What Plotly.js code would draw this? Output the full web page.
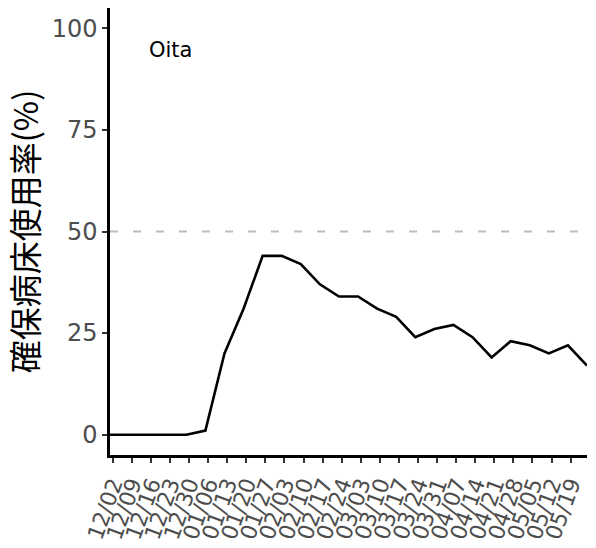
<!DOCTYPE html>
<html>
<head>
<meta charset="utf-8">
<script src="https://cdn.plot.ly/plotly-3.0.1.min.js"></script>
<style>html,body{margin:0;padding:0;background:#fff;}#chart{width:596px;height:548px;}</style>
</head>
<body>
<div id="chart"></div>
<script>
// Weekly data points (dates are one day before each tick date)
const dates = [
  "2020-12-01","2020-12-08","2020-12-15","2020-12-22","2020-12-29",
  "2021-01-05","2021-01-12","2021-01-19","2021-01-26","2021-02-02",
  "2021-02-09","2021-02-16","2021-02-23","2021-03-02","2021-03-09",
  "2021-03-16","2021-03-23","2021-03-30","2021-04-06","2021-04-13",
  "2021-04-20","2021-04-27","2021-05-04","2021-05-11","2021-05-18",
  "2021-05-25"
];
const usageRate = [
  0, 0, 0, 0, 0,
  1, 20, 31, 44, 44,
  42, 37, 34, 34, 31,
  29, 24, 26, 27, 24,
  19, 23, 22, 20, 22,
  17
];
const tickDates = [
  "2020-12-02","2020-12-09","2020-12-16","2020-12-23","2020-12-30",
  "2021-01-06","2021-01-13","2021-01-20","2021-01-27","2021-02-03",
  "2021-02-10","2021-02-17","2021-02-24","2021-03-03","2021-03-10",
  "2021-03-17","2021-03-24","2021-03-31","2021-04-07","2021-04-14",
  "2021-04-21","2021-04-28","2021-05-05","2021-05-12","2021-05-19"
];
const tickLabels = [
  "12/02","12/09","12/16","12/23","12/30",
  "01/06","01/13","01/20","01/27","02/03",
  "02/10","02/17","02/24","03/03","03/10",
  "03/17","03/24","03/31","04/07","04/14",
  "04/21","04/28","05/05","05/12","05/19"
];
const yTicks = [0, 25, 50, 75, 100];
const threshold = 50;
const prefecture = "Oita";
const yTitle = "確保病床使用率(%)";

const traces = [
  {
    x: [dates[0], dates[dates.length - 1]],
    y: [threshold, threshold],
    mode: "lines",
    line: {color: "#bebebe", width: 2.2, dash: "8px,15px"},
    hoverinfo: "skip",
    showlegend: false
  },
  {
    x: dates,
    y: usageRate,
    mode: "lines",
    line: {color: "#000000", width: 2.6},
    showlegend: false
  }
];

const yTickFont = {family: "DejaVu Sans, Verdana, sans-serif", size: 24, color: "#4d4d4d"};
const xTickFont = {family: "DejaVu Sans, Verdana, sans-serif", size: 22, color: "#4d4d4d"};

const layout = {
  width: 596,
  height: 548,
  margin: {l: 110, r: 9, t: 8, b: 93, pad: 0},
  paper_bgcolor: "#ffffff",
  plot_bgcolor: "#ffffff",
  showlegend: false,
  xaxis: {
    type: "date",
    range: [dates[0], dates[dates.length - 1]],
    tickmode: "array",
    tickvals: tickDates,
    ticktext: tickLabels,
    tickangle: -70,
    tickfont: xTickFont,
    ticks: "outside",
    ticklen: 5,
    tickwidth: 2,
    tickcolor: "#333333",
    showline: true,
    linecolor: "#000000",
    linewidth: 2.6,
    showgrid: false,
    zeroline: false,
    automargin: false
  },
  yaxis: {
    range: [-5, 105],
    tickmode: "array",
    tickvals: yTicks,
    ticktext: yTicks.map(String),
    tickfont: yTickFont,
    ticks: "outside",
    ticklen: 5,
    tickwidth: 2,
    tickcolor: "#333333",
    showline: true,
    linecolor: "#000000",
    linewidth: 2.6,
    showgrid: false,
    zeroline: false,
    automargin: false,
    title: {
      text: yTitle,
      font: {family: "Noto Sans CJK JP, sans-serif", size: 33, color: "#000000"},
      standoff: 10
    }
  },
  annotations: [
    {
      text: prefecture,
      xref: "paper", yref: "paper",
      x: 0.078, y: 0.906,
      xanchor: "left", yanchor: "middle",
      showarrow: false,
      font: {family: "DejaVu Sans, Verdana, sans-serif", size: 21, color: "#000000"}
    }
  ]
};

Plotly.newPlot("chart", traces, layout, {displayModeBar: false, staticPlot: true});
</script>
</body>
</html>
